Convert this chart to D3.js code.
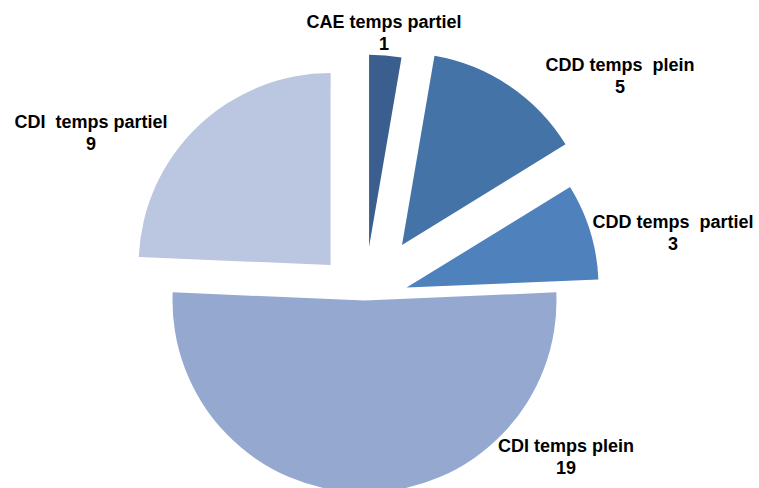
<head>
  <script src="https://d3js.org/d3.v7.min.js"></script>
  <style>
    body { margin: 0; background: #fff; }
    .label {
      font-family: "Liberation Sans", Arial, sans-serif;
      font-weight: bold;
      font-size: 18px;
      fill: #000;
      white-space: pre;
    }
  </style>
</head>

<body>
  <svg id="chart" width="759" height="488"></svg>
</body>

<script>
  // data
  const categories = ["CAE temps partiel", "CDD temps  plein", "CDD temps  partiel", "CDI temps plein", "CDI  temps partiel"];
  const values = [1, 5, 3, 19, 9];

  // styling
  const colors = ["#3A5F8F", "#4473A8", "#4F81BD", "#95A9D0", "#BBC7E0"];
  const explode = [54, 67, 44, 0, 49];          // how far each slice is pulled out
  const labelPos = [[384, 28], [620, 71], [673, 228], [566, 452], [91, 128]];

  const width = 759, height = 488;
  const cx = 364.5, cy = 300.5, radius = 192;

  const svg = d3.select("#chart");
  const g = svg.append("g").attr("transform", "translate(" + cx + "," + cy + ")");

  const pie = d3.pie().sort(null).value(d => d);
  const arc = d3.arc().innerRadius(0).outerRadius(radius);
  const arcs = pie(values);

  g.selectAll("path.slice")
    .data(arcs)
    .join("path")
    .attr("class", "slice")
    .attr("d", arc)
    .attr("fill", (d, i) => colors[i])
    .attr("transform", (d, i) => {
      const a = (d.startAngle + d.endAngle) / 2;
      return "translate(" + (Math.sin(a) * explode[i]) + "," + (-Math.cos(a) * explode[i]) + ")";
    });

  const labels = svg.selectAll("text.label")
    .data(arcs)
    .join("text")
    .attr("class", "label")
    .attr("text-anchor", "middle")
    .attr("x", (d, i) => labelPos[i][0])
    .attr("y", (d, i) => labelPos[i][1]);

  labels.append("tspan")
    .attr("x", (d, i) => labelPos[i][0])
    .text((d, i) => categories[i]);
  labels.append("tspan")
    .attr("x", (d, i) => labelPos[i][0])
    .attr("dy", 22)
    .text(d => d.value);
</script>
